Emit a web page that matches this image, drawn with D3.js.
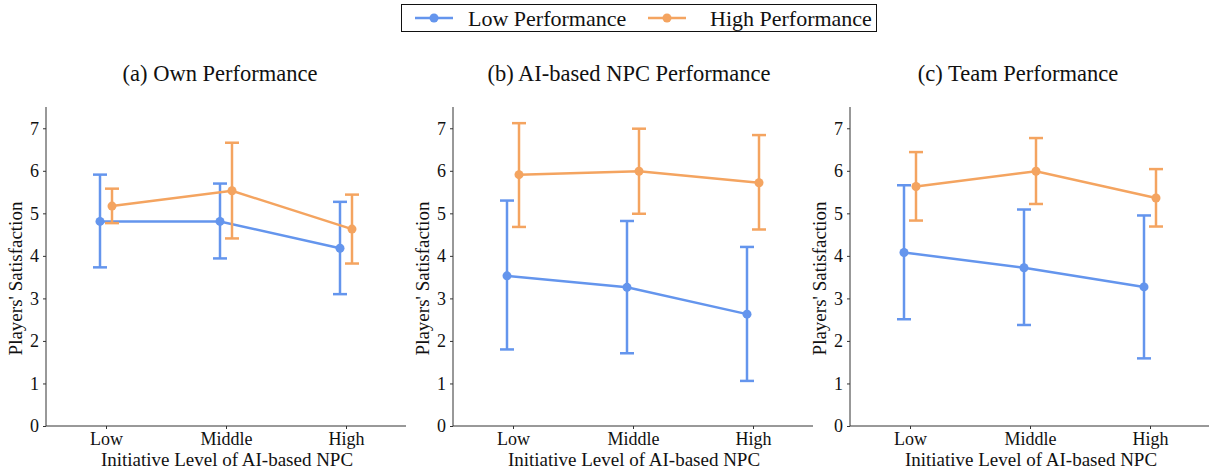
<!DOCTYPE html>
<html>
<head>
<meta charset="utf-8">
<script src="https://cdn.jsdelivr.net/npm/d3@7"></script>
<style>
  body { margin: 0; background: #fff; }
  svg { display: block; }
</style>
</head>
<body>
<svg id="chart" width="1209" height="472"></svg>
<script>
// Initiative levels of the AI-based NPC
const levels = ["Low", "Middle", "High"];
const panelTitles = ["(a) Own Performance", "(b) AI-based NPC Performance", "(c) Team Performance"];
const seriesNames = ["Low Performance", "High Performance"];
const yTicks = [0, 1, 2, 3, 4, 5, 6, 7];

// Mean satisfaction per panel, per initiative level, with error-bar bounds
const ownLowMean   = [4.81, 4.81, 4.18];
const ownLowErr    = [[3.73, 5.91], [3.94, 5.70], [3.10, 5.27]];
const ownHighMean  = [5.17, 5.53, 4.63];
const ownHighErr   = [[4.77, 5.58], [4.41, 6.66], [3.82, 5.44]];

const npcLowMean   = [3.53, 3.26, 2.63];
const npcLowErr    = [[1.80, 5.30], [1.71, 4.82], [1.06, 4.21]];
const npcHighMean  = [5.91, 5.99, 5.72];
const npcHighErr   = [[4.68, 7.12], [4.99, 6.99], [4.62, 6.84]];

const teamLowMean  = [4.08, 3.72, 3.27];
const teamLowErr   = [[2.51, 5.66], [2.375, 5.09], [1.59, 4.95]];
const teamHighMean = [5.63, 5.99, 5.36];
const teamHighErr  = [[4.83, 6.44], [5.22, 6.77], [4.69, 6.04]];

const panels = [
  { title: panelTitles[0], low: [ownLowMean, ownLowErr],   high: [ownHighMean, ownHighErr] },
  { title: panelTitles[1], low: [npcLowMean, npcLowErr],   high: [npcHighMean, npcHighErr] },
  { title: panelTitles[2], low: [teamLowMean, teamLowErr], high: [teamHighMean, teamHighErr] }
];

const colors = ["#6495ED", "#F4A460"];
const FONT = '"Liberation Serif", "Times New Roman", serif';
const svg = d3.select("#chart");

// panel layout
const axisLefts = [46, 453, 850];
const titleOffsets = [174, 176, 168];
const plotW = 360;
const plotTop = 107, plotBottom = 426;

const y = d3.scaleLinear().domain([0, 7.5]).range([plotBottom, plotTop]);

panels.forEach((p, i) => {
  const g = svg.append("g").attr("transform", `translate(${axisLefts[i]},0)`);
  // continuous x: categories at 0,1,2 with half-unit margin either side
  const x = d3.scaleLinear().domain([-0.5, 2.5]).range([0, plotW]);
  const dodge = [-0.05, 0.05];

  // axes
  const yAxis = g.append("g")
    .call(d3.axisLeft(y).tickValues(yTicks).tickSize(3).tickPadding(4).tickFormat(d3.format("d")));
  const xAxis = g.append("g").attr("transform", `translate(0,${plotBottom})`)
    .call(d3.axisBottom(x).tickValues([0, 1, 2]).tickSize(3).tickPadding(3).tickFormat(d => levels[d]));
  [yAxis, xAxis].forEach(a => {
    a.attr("font-size", 18);
    a.select(".domain").attr("stroke", "#333").attr("stroke-width", 1);
    a.selectAll(".tick line").attr("stroke", "#333");
    a.selectAll("text").attr("fill", "#111");
  });
  xAxis.select(".domain").attr("d", `M0,0H${plotW}`);
  yAxis.select(".domain").attr("d", `M0,${plotBottom}V${plotTop}`);

  // titles
  g.append("text").attr("x", titleOffsets[i]).attr("y", 81).attr("text-anchor", "middle")
    .attr("font-size", 22.5).attr("fill", "#111").text(p.title);
  g.append("text").attr("x", plotW / 2 + 1).attr("y", 466).attr("text-anchor", "middle")
    .attr("font-size", 19).attr("fill", "#111").text("Initiative Level of AI-based NPC");
  g.append("text").attr("transform", `translate(-24,${(plotTop + plotBottom) / 2 + 12}) rotate(-90)`)
    .attr("text-anchor", "middle").attr("font-size", 19).attr("fill", "#111")
    .text("Players' Satisfaction");

  [p.low, p.high].forEach((s, k) => {
    const [means, errs] = s;
    const col = colors[k];
    const xs = levels.map((_, j) => x(j + dodge[k]));
    const sg = g.append("g");
    // error bars with caps
    errs.forEach((e, j) => {
      sg.append("line").attr("x1", xs[j]).attr("x2", xs[j]).attr("y1", y(e[0])).attr("y2", y(e[1]))
        .attr("stroke", col).attr("stroke-width", 2.5);
      e.forEach(v => {
        sg.append("line").attr("x1", xs[j] - 7).attr("x2", xs[j] + 7).attr("y1", y(v)).attr("y2", y(v))
          .attr("stroke", col).attr("stroke-width", 2.5);
      });
    });
    sg.append("path").datum(means)
      .attr("d", d3.line().x((d, j) => xs[j]).y(d => y(d)))
      .attr("fill", "none").attr("stroke", col).attr("stroke-width", 2.5);
    sg.selectAll("circle").data(means).join("circle")
      .attr("cx", (d, j) => xs[j]).attr("cy", d => y(d)).attr("r", 4.5).attr("fill", col);
  });
});

// legend
const lg = svg.append("g");
lg.append("rect").attr("x", 401.5).attr("y", 4.5).attr("width", 475).attr("height", 27)
  .attr("fill", "#fff").attr("stroke", "#111").attr("stroke-width", 1);
const legendItems = [{ x0: 415, tx: 468 }, { x0: 648, tx: 710 }];
seriesNames.forEach((name, k) => {
  const it = legendItems[k];
  lg.append("line").attr("x1", it.x0).attr("x2", it.x0 + 38).attr("y1", 18).attr("y2", 18)
    .attr("stroke", colors[k]).attr("stroke-width", 2.5);
  lg.append("circle").attr("cx", it.x0 + 19).attr("cy", 18).attr("r", 4.5).attr("fill", colors[k]);
  lg.append("text").attr("x", it.tx).attr("y", 25.5).attr("font-size", 22)
    .attr("fill", "#111").text(name);
});

// serif face for every label
svg.selectAll("text").style("font-family", FONT);
</script>
</body>
</html>
